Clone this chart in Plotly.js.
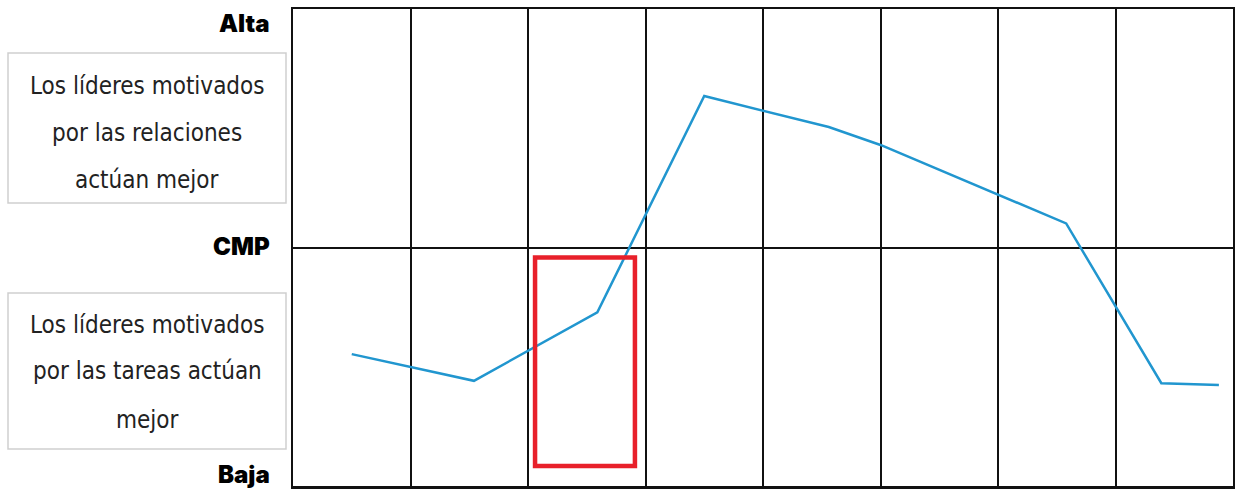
<!DOCTYPE html>
<html>
<head>
<meta charset="utf-8">
<script src="https://cdn.plot.ly/plotly-3.0.1.min.js"></script>
<style>html,body{margin:0;padding:0;background:#fff;}#chart{width:1235px;height:491px;}</style>
</head>
<body>
<div id="chart"></div>
<script>
// ---- data (x in column units 0..8, y on a scale Baja=0, CMP=1, Alta=2) ----
const curveX = [0.50, 1.54, 2.59, 3.50, 4.56, 5.00, 6.58, 7.39, 7.88];
const curveY = [0.553, 0.441, 0.728, 1.635, 1.505, 1.430, 1.101, 0.431, 0.423];
const levelLabels = ["Alta", "CMP", "Baja"];
const boxTopLines = ["Los líderes motivados", "por las relaciones", "actúan mejor"];
const boxBottomLines = ["Los líderes motivados", "por las tareas actúan", "mejor"];
const highlightX = [2.06, 2.91];
const highlightY = [0.084, 0.958];

// ---- layout geometry ----
const W = 1235, H = 491;
const M = {l: 293, r: 2, t: 9, b: 5};
const PW = W - M.l - M.r, PH = H - M.t - M.b;
const px = x => (x - M.l) / PW;          // pixel -> paper
const py = y => (H - M.b - y) / PH;

const textFont = {family: "DejaVu Sans Condensed, sans-serif", size: 24, color: "#222"};
const labelFont = {family: "Inter, DejaVu Sans, sans-serif", size: 24, color: "#000", weight: 900};

const annotations = [];
const labelY = [24, 246, 474];
levelLabels.forEach((t, i) => annotations.push({
  xref: "paper", yref: "paper", x: px(272), y: py(labelY[i]),
  xanchor: "right", yanchor: "middle", text: t, showarrow: false, font: labelFont
}));
const topLineY = [86, 133, 180];
boxTopLines.forEach((t, i) => annotations.push({
  xref: "paper", yref: "paper", x: px(147), y: py(topLineY[i]),
  xanchor: "center", yanchor: "middle", text: t, showarrow: false, font: textFont
}));
const botLineY = [325, 371, 420];
boxBottomLines.forEach((t, i) => annotations.push({
  xref: "paper", yref: "paper", x: px(147), y: py(botLineY[i]),
  xanchor: "center", yanchor: "middle", text: t, showarrow: false, font: textFont
}));

const shapes = [
  {type: "rect", xref: "paper", yref: "paper", x0: px(8), x1: px(286), y0: py(53), y1: py(203),
   line: {color: "#cfcfcf", width: 1.5}, fillcolor: "rgba(0,0,0,0)"},
  {type: "rect", xref: "paper", yref: "paper", x0: px(8), x1: px(286), y0: py(293), y1: py(449),
   line: {color: "#cfcfcf", width: 1.5}, fillcolor: "rgba(0,0,0,0)"},
  {type: "rect", xref: "x", yref: "y", x0: highlightX[0], x1: highlightX[1], y0: highlightY[0], y1: highlightY[1],
   line: {color: "#e8202a", width: 4.5}, fillcolor: "rgba(0,0,0,0)", layer: "above"}
];

const trace = {
  x: curveX, y: curveY, type: "scatter", mode: "lines",
  line: {color: "#2196cf", width: 2.5}, hoverinfo: "skip"
};

const axisCommon = {
  showgrid: true, gridcolor: "#111", gridwidth: 2, zeroline: false,
  showticklabels: false, ticks: "", showline: true, mirror: true,
  linecolor: "#111", linewidth: 2.5, fixedrange: true
};

const layout = {
  width: W, height: H, margin: M,
  paper_bgcolor: "#fff", plot_bgcolor: "#fff", showlegend: false,
  xaxis: Object.assign({range: [0, 8], dtick: 1, tick0: 0}, axisCommon),
  yaxis: Object.assign({range: [0, 2], dtick: 1, tick0: 0}, axisCommon),
  annotations: annotations, shapes: shapes
};

Plotly.newPlot("chart", [trace], layout, {staticPlot: true, displayModeBar: false});
</script>
</body>
</html>
